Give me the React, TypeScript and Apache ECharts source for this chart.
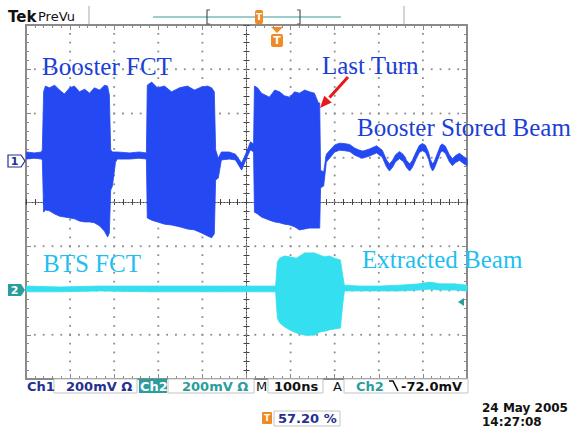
import React, { useEffect, useRef } from "react";
import * as echarts from "echarts";

// Horizontal: time in ns (M 100 ns/div, 10 divisions). Vertical: screen divisions (8 divisions).
// Channel 1 (Booster FCT) envelope of the trace: time, upper edge, lower edge
const ch1Time = [-499, -481, -465, -463, -460, -456, -447, -435, -424, -413, -401, -390, -379, -367, -356, -345, -333, -322, -315, -311, -308, -304, -297, -293, -265, -243, -227, -225, -215, -202, -186, -170, -152, -134, -118, -102, -88, -79, -73, -70, -64, -57, -39, -25, -11, 0, 9, 16, 18, 25, 34, 52, 64, 75, 86, 98, 109, 120, 132, 143, 154, 163, 166, 168, 175, 181, 200, 211, 222, 234, 245, 254, 263, 270, 279, 295, 308, 317, 324, 331, 338, 347, 356, 363, 370, 376, 385, 392, 399, 406, 413, 417, 422, 426, 433, 440, 444, 451, 460, 467, 474, 483, 492, 500];
const ch1High = [1.13, 1.11, 1.13, 1.18, 2.49, 2.62, 2.58, 2.64, 2.53, 2.44, 2.58, 2.62, 2.49, 2.55, 2.46, 2.58, 2.53, 2.64, 2.62, 2.42, 1.18, 1.13, 1.13, 1.13, 1.11, 1.13, 1.11, 2.64, 2.71, 2.58, 2.62, 2.49, 2.58, 2.62, 2.53, 2.6, 2.62, 2.58, 2.49, 1.18, 0.99, 1.13, 1.13, 1.08, 0.88, 1.13, 1.36, 1.31, 2.62, 2.58, 2.46, 2.37, 2.53, 2.49, 2.4, 2.37, 2.49, 2.46, 2.53, 2.49, 2.46, 2.24, 2.24, 0.72, 0.68, 1.08, 1.29, 1.33, 1.32, 1.3, 1.22, 1.18, 1.15, 1.17, 1.2, 1.27, 1.17, 0.96, 0.86, 0.94, 1.07, 1.14, 1.07, 0.94, 0.86, 0.94, 1.14, 1.28, 1.32, 1.28, 1.12, 0.96, 0.86, 0.92, 1.1, 1.28, 1.31, 1.26, 1.07, 0.98, 1.05, 1.1, 1.03, 0.98];
const ch1Low = [0.97, 0.99, 0.97, 0.95, -0.23, -0.18, -0.2, -0.27, -0.32, -0.34, -0.36, -0.38, -0.43, -0.45, -0.45, -0.47, -0.54, -0.66, -0.79, -0.7, 0.27, 0.36, 0.9, 0.97, 0.97, 0.99, 0.97, -0.36, -0.41, -0.45, -0.5, -0.52, -0.56, -0.61, -0.63, -0.7, -0.77, -0.81, -0.72, 0.5, 0.54, 0.95, 0.97, 0.95, 0.72, 0.99, 1.18, 1.13, -0.23, -0.27, -0.34, -0.41, -0.45, -0.47, -0.5, -0.52, -0.56, -0.63, -0.61, -0.59, -0.59, -0.59, -0.59, 0.32, 0.36, 0.9, 1.13, 1.17, 1.16, 1.14, 1.06, 1.02, 0.99, 1.01, 1.04, 1.11, 1.01, 0.8, 0.7, 0.78, 0.91, 0.98, 0.91, 0.78, 0.7, 0.78, 0.98, 1.12, 1.16, 1.12, 0.96, 0.8, 0.7, 0.76, 0.94, 1.12, 1.15, 1.1, 0.91, 0.82, 0.89, 0.94, 0.87, 0.82];

// Channel 2 (BTS FCT) envelope
const ch2Time = [-499, -424, -333, -220, -107, 7, 66, 70, 75, 86, 98, 113, 132, 154, 166, 177, 188, 200, 213, 218, 222, 256, 302, 347, 392, 415, 438, 472, 500];
const ch2High = [-1.9, -1.92, -1.9, -1.9, -1.9, -1.9, -1.9, -1.36, -1.27, -1.22, -1.24, -1.27, -1.15, -1.15, -1.2, -1.24, -1.22, -1.27, -1.31, -1.65, -1.88, -1.9, -1.9, -1.88, -1.85, -1.81, -1.85, -1.85, -1.88];
const ch2Low = [-2.03, -2.03, -2.01, -2.03, -2.03, -2.03, -2.03, -2.62, -2.73, -2.82, -2.89, -2.96, -3.01, -3.01, -2.94, -2.92, -2.89, -2.87, -2.85, -2.33, -2.01, -2.01, -2.01, -2.01, -1.99, -1.97, -1.99, -1.99, -2.01];

const timeMin = -500;
const timeMax = 500;
const timePerDiv = 100;
const divMin = -4;
const divMax = 4;
const minorPerDiv = 5;

const annotations = ["Booster FCT", "Last Turn", "Booster Stored Beam", "BTS FCT", "Extracted Beam"];
const statusTexts = ["Ch1", "200mV Ω", "Ch2", "200mV Ω", "M", "100ns", "A", "Ch2", "-72.0mV"];
const triggerPosition = "57.20 %";
const dateText = "24 May 2005";
const timeText = "14:27:08";

const CH1 = "#2448f2";
const CH2 = "#34e0f0";
const TXT1 = "#1b3fd6";
const TXT2 = "#1ebff0";
const NAVY = "#25308f";
const TEAL = "#2a9d9d";
const ORANGE = "#f08a24";
const BORDER = "#8a8a8a";

function envelope(name: string, t: number[], hi: number[], lo: number[], color: string) {
  return {
    type: "custom",
    name,
    xAxisIndex: 0,
    yAxisIndex: 0,
    silent: true,
    data: [[t[0], hi[0]]],
    encode: { x: 0, y: 1 },
    z: 3,
    renderItem: (_params: any, api: any) => {
      const pts: number[][] = [];
      for (let i = 0; i < t.length; i++) pts.push(api.coord([t[i], hi[i]]));
      for (let i = t.length - 1; i >= 0; i--) pts.push(api.coord([t[i], lo[i]]));
      return {
        type: "polygon",
        shape: { points: pts },
        style: { fill: color, stroke: color, lineWidth: 0.8 },
      };
    },
  };
}

// Graticule dot positions: every 1/5 division along each division line (not the centre lines)
function graticuleDots() {
  const pts: number[][] = [];
  const nx = (timeMax - timeMin) / timePerDiv;
  const ny = divMax - divMin;
  for (let k = 1; k < nx; k++) {
    if (k * 2 === nx) continue;
    const t = timeMin + k * timePerDiv;
    for (let j = 1; j < ny * minorPerDiv; j++) pts.push([t, divMin + j / minorPerDiv]);
  }
  for (let k = 1; k < ny; k++) {
    if (k * 2 === ny) continue;
    const v = divMin + k;
    for (let j = 1; j < nx * minorPerDiv; j++) pts.push([timeMin + (j * timePerDiv) / minorPerDiv, v]);
  }
  return {
    type: "scatter",
    name: "graticule",
    silent: true,
    symbol: "rect",
    symbolSize: 1.8,
    itemStyle: { color: "#8c8c8c", opacity: 1 },
    large: false,
    z: 1,
    data: pts,
  };
}

function borderAxis(kind: "x" | "y", position: string) {
  return {
    type: "value",
    min: kind === "x" ? timeMin : divMin,
    max: kind === "x" ? timeMax : divMax,
    interval: kind === "x" ? timePerDiv : 1,
    position,
    axisLine: { show: true, onZero: false, lineStyle: { color: BORDER, width: 2 } },
    axisTick: { show: true, inside: true, length: 5, lineStyle: { color: BORDER } },
    minorTick: { show: true, splitNumber: minorPerDiv, length: 3, lineStyle: { color: BORDER } },
    axisLabel: { show: false },
    splitLine: { show: false },
    minorSplitLine: { show: false },
  };
}

function centerAxis(kind: "x" | "y", position: string) {
  return {
    type: "value",
    min: kind === "x" ? timeMin : divMin,
    max: kind === "x" ? timeMax : divMax,
    interval: kind === "x" ? timePerDiv : 1,
    position,
    axisLine: { show: true, onZero: true, onZeroAxisIndex: 0, lineStyle: { color: "#444", width: 1, type: [1, 2] } },
    axisTick: { show: true, inside: true, length: 3, lineStyle: { color: "#444" } },
    minorTick: { show: true, splitNumber: minorPerDiv, length: 3, lineStyle: { color: "#444" } },
    axisLabel: { show: false },
    splitLine: { show: false },
  };
}

const serif = '"Liberation Serif", "Times New Roman", serif';
const sans = '"DejaVu Sans", sans-serif';

function txt(text: string, x: number, y: number, font: string, fill: string, align = "left") {
  return { type: "text", x, y, z: 100, silent: true, style: { text, font, fill, align, verticalAlign: "middle" } };
}
function box(x: number, y: number, w: number, h: number) {
  return { type: "rect", z: 90, silent: true, shape: { x, y, width: w, height: h }, style: { fill: "#fff", stroke: "#c4c4c4", lineWidth: 1 } };
}

export default function App() {
  const ref = useRef<HTMLDivElement>(null);
  useEffect(() => {
    if (!ref.current) return;
    const chart = echarts.init(ref.current, undefined, { renderer: "svg" });
    const arrowStart = [348, 77];
    const tip = [320, 108];
    const statusY = 386;
    const option: any = {
      animation: false,
      backgroundColor: "#ffffff",
      grid: { left: 26, top: 25, width: 441, height: 354, containLabel: false, outerBoundsMode: "none" },
      xAxis: [borderAxis("x", "bottom"), borderAxis("x", "top"), centerAxis("x", "bottom"), centerAxis("x", "top")],
      yAxis: [borderAxis("y", "left"), borderAxis("y", "right"), centerAxis("y", "left"), centerAxis("y", "right")],
      series: [graticuleDots(), envelope("Ch1", ch1Time, ch1High, ch1Low, CH1), envelope("Ch2", ch2Time, ch2High, ch2Low, CH2)],
      graphic: {
        elements: [
          // Top PreVu bar
          txt("Tek", 8, 17, `bold 15px ${sans}`, "#111"),
          txt("PreVu", 38, 16, `13px ${sans}`, "#111"),
          { type: "line", z: 90, shape: { x1: 89, y1: 6, x2: 89, y2: 24 }, style: { stroke: "#aaa", lineWidth: 1 } },
          { type: "line", z: 90, shape: { x1: 404, y1: 6, x2: 404, y2: 24 }, style: { stroke: "#aaa", lineWidth: 1 } },
          { type: "line", z: 90, shape: { x1: 153, y1: 17, x2: 341, y2: 17 }, style: { stroke: "#7bbcbc", lineWidth: 1.5 } },
          { type: "polyline", z: 91, shape: { points: [[210, 10], [207, 10], [207, 24], [210, 24]] }, style: { stroke: "#555", lineWidth: 1.2, fill: null } },
          { type: "polyline", z: 91, shape: { points: [[297, 10], [300, 10], [300, 24], [297, 24]] }, style: { stroke: "#555", lineWidth: 1.2, fill: null } },
          { type: "rect", z: 92, shape: { x: 255, y: 10, width: 8, height: 14, r: 2 }, style: { fill: ORANGE } },
          txt("T", 259, 17, `bold 9px ${sans}`, "#fff", "center"),
          // Trigger position marker
          { type: "polygon", z: 92, shape: { points: [[271, 27], [283, 27], [277, 33]] }, style: { fill: ORANGE } },
          { type: "rect", z: 92, shape: { x: 271, y: 34, width: 12, height: 13, r: 2 }, style: { fill: ORANGE } },
          txt("T", 277, 40.5, `bold 11px ${sans}`, "#fff", "center"),
          // Annotations
          txt(annotations[0], 42, 66.5, `25px ${serif}`, TXT1),
          txt(annotations[1], 322, 65.5, `25px ${serif}`, TXT1),
          txt(annotations[2], 357, 127.5, `25px ${serif}`, TXT1),
          txt(annotations[3], 43, 263.5, `25px ${serif}`, TXT2),
          txt(annotations[4], 362, 259.5, `25px ${serif}`, TXT2),
          // Red arrow
          { type: "line", z: 95, shape: { x1: arrowStart[0], y1: arrowStart[1], x2: 329.5, y2: 97.5 }, style: { stroke: "#e8191b", lineWidth: 3 } },
          { type: "polygon", z: 95, shape: { points: [tip, [331.7, 102.5], [324.3, 95.7]] }, style: { fill: "#e8191b" } },
          // Channel ground markers
          { type: "polygon", z: 95, shape: { points: [[8, 155], [21, 155], [25, 161], [21, 167], [8, 167]] }, style: { fill: "#fff", stroke: NAVY, lineWidth: 1.2 } },
          txt("1", 14.5, 161, `bold 11px ${sans}`, NAVY, "center"),
          { type: "polygon", z: 95, shape: { points: [[8, 284], [21, 284], [25, 290], [21, 296], [8, 296]] }, style: { fill: TEAL } },
          txt("2", 14.5, 290, `bold 11px ${sans}`, "#fff", "center"),
          { type: "polygon", z: 95, shape: { points: [[458, 302], [464, 298], [464, 306]] }, style: { fill: TEAL } },
          // Status row
          txt(statusTexts[0], 27, statusY, `bold 13px ${sans}`, NAVY),
          box(54, 379, 83, 14),
          txt(statusTexts[1], 66, statusY, `bold 13px ${sans}`, NAVY),
          { type: "rect", z: 90, shape: { x: 139, y: 379, width: 28, height: 14 }, style: { fill: TEAL } },
          txt(statusTexts[2], 140, statusY, `bold 13px ${sans}`, "#fff"),
          box(168, 379, 86, 14),
          txt(statusTexts[3], 182, statusY, `bold 13px ${sans}`, TEAL),
          txt(statusTexts[4], 256, statusY, `13px ${sans}`, "#111"),
          box(268, 379, 55, 14),
          txt(statusTexts[5], 274, statusY, `bold 13px ${sans}`, "#111"),
          txt(statusTexts[6], 333, statusY, `13px ${sans}`, "#111"),
          box(344, 379, 124, 14),
          txt(statusTexts[7], 356, statusY, `bold 13px ${sans}`, TEAL),
          { type: "polyline", z: 96, shape: { points: [[389, 381], [393, 381], [398, 391]] }, style: { stroke: "#111", lineWidth: 1.6, fill: null } },
          txt(statusTexts[8], 401, statusY, `bold 13px ${sans}`, "#111"),
          // Trigger position readout
          { type: "rect", z: 92, shape: { x: 262, y: 412, width: 10, height: 12, r: 1 }, style: { fill: ORANGE } },
          txt("T", 267, 418, `bold 9px ${sans}`, "#fff", "center"),
          box(274, 411, 66, 15),
          txt(triggerPosition, 278, 418.5, `bold 13px ${sans}`, NAVY),
          // Date / time
          txt(dateText, 482, 408, `bold 12px ${sans}`, "#111"),
          txt(timeText, 482, 422, `bold 12px ${sans}`, "#111"),
        ],
      },
    };
    chart.setOption(option);
    return () => chart.dispose();
  }, []);
  return <div ref={ref} style={{ position: "fixed", left: 0, top: 0, width: 571, height: 428, background: "#fff" }} />;
}
